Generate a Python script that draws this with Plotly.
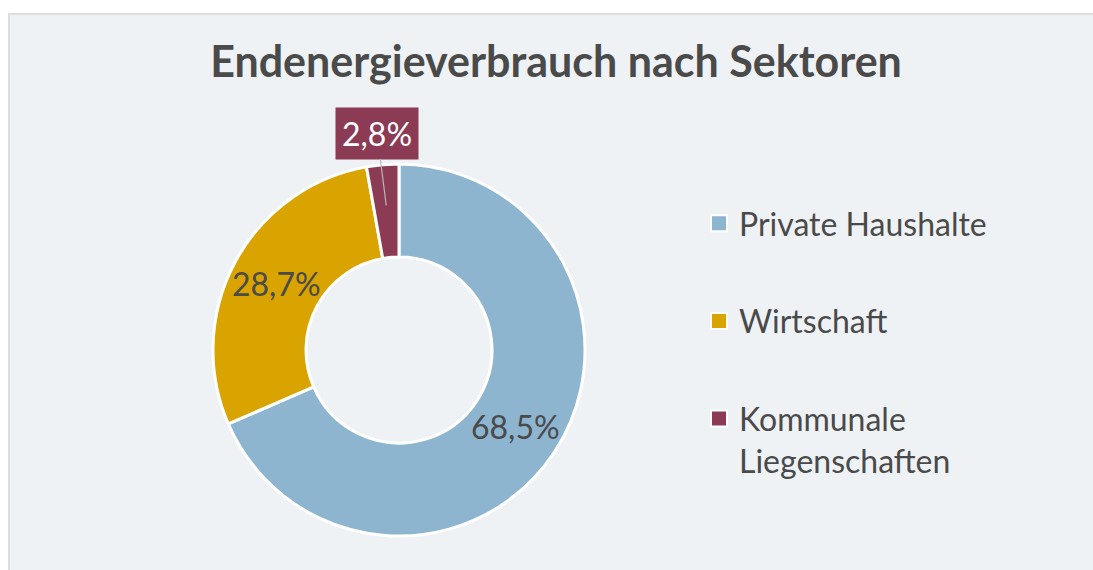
import math
import plotly.graph_objects as go

W, H = 1093, 570

# ---- data ----
categories = ["Private Haushalte", "Wirtschaft", "Kommunale Liegenschaften"]
legend_labels = ["Private Haushalte", "Wirtschaft", "Kommunale<br>Liegenschaften"]
shares = [68.5, 28.7, 2.8]
colors = ["#8db5d0", "#d9a300", "#8c3b55"]
title_text = "Endenergieverbrauch nach Sektoren"

def fmt(v):
    return f"{v:.1f}".replace(".", ",") + "%"

TEXT = "#4a4a4a"
FONT = "Lato"

# layout geometry (pixels)
cx, cy, R = 399, 350, 186

fig = go.Figure()
fig.add_trace(go.Pie(
    labels=categories,
    values=shares,
    textinfo="none",
    marker=dict(colors=colors, line=dict(color="white", width=3)),
    hole=0.5,
    sort=False,
    direction="clockwise",
    rotation=0,
    showlegend=False,
    hoverinfo="label+percent",
    domain=dict(x=[(cx - R) / W, (cx + R) / W],
                y=[(H - cy - R) / H, (H - cy + R) / H]),
))

# legend via dummy traces built from the data
for lab, col in zip(legend_labels, colors):
    fig.add_trace(go.Scatter(
        x=[None], y=[None], mode="markers", name=lab,
        marker=dict(symbol="square", size=16, color=col,
                    line=dict(color="white", width=2)),
        legendgroup=lab,
    ))

# slice labels, positioned from the data
total = sum(shares)
cum = 0.0
for i, v in enumerate(shares):
    mid_frac = (cum + v / 2) / total
    cum += v
    ang = mid_frac * 2 * math.pi
    if i < 2:
        rp = 0.75 * R
        px_ = cx + rp * math.sin(ang)
        py_ = cy - rp * math.cos(ang)
        fig.add_annotation(
            x=px_ / W, y=1 - py_ / H, xref="paper", yref="paper",
            xanchor="center", yanchor="middle",
            text=fmt(v), showarrow=False,
            font=dict(family=FONT, size=32, color=TEXT),
        )
    else:
        rp = 0.78 * R
        px_ = cx + rp * math.sin(ang)
        py_ = cy - rp * math.cos(ang)
        fig.add_annotation(
            x=px_ / W, y=1 - py_ / H, xref="paper", yref="paper",
            text=fmt(v), showarrow=True, arrowhead=0, arrowwidth=1.2,
            arrowcolor="#b8b8b8", ax=377 - px_, ay=133 - py_,
            font=dict(family=FONT, size=32, color="white"),
            bgcolor=colors[2], borderpad=6,
        )

fig.update_layout(
    width=W, height=H,
    margin=dict(l=0, r=0, t=0, b=0),
    paper_bgcolor="white",
    plot_bgcolor="rgba(0,0,0,0)",
    xaxis=dict(visible=False, domain=[0.9, 1.0]),
    yaxis=dict(visible=False, domain=[0.0, 0.1]),
    title=dict(text=title_text, x=556 / W, xanchor="center",
               y=1 - 62 / H, yanchor="middle",
               font=dict(family=FONT, size=43, color="#4a4a4a", weight="bold")),
    legend=dict(x=699 / W, xanchor="left", y=1 - 196 / H, yanchor="top",
                font=dict(family=FONT, size=32, color=TEXT),
                tracegroupgap=53, valign="top", bgcolor="rgba(0,0,0,0)",
                itemclick=False, itemdoubleclick=False),
    shapes=[dict(type="rect", xref="paper", yref="paper",
                 x0=9 / W, x1=1.01, y0=-0.01, y1=1 - 14 / H,
                 line=dict(color="#dedede", width=2),
                 fillcolor="#eff2f5", layer="below")],
    showlegend=True,
)

fig.write_html(
    "out.html",
    config={"displayModeBar": False},
    post_script="document.body.style.margin='0';document.body.style.overflow='hidden';",
)
